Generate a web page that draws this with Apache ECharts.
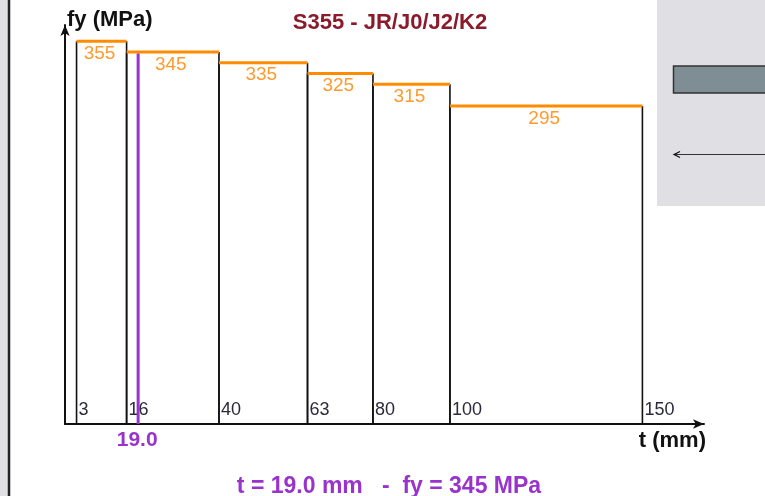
<!DOCTYPE html>
<html>
<head>
<meta charset="utf-8">
<script src="https://cdn.jsdelivr.net/npm/echarts@6/dist/echarts.min.js"></script>
<style>
html,body{margin:0;padding:0;background:#fff;}
#chart{width:765px;height:496px;}
</style>
</head>
<body>
<div id="chart"></div>
<script>
// ---- data ----
const tStart = [3, 16, 40, 63, 80, 100];
const tEnd = [16, 40, 63, 80, 100, 150];
const fyValues = [355, 345, 335, 325, 315, 295];
const tickLabels = [3, 16, 40, 63, 80, 100, 150];
const tSelected = 19.0;
const fySelected = 345;
const titleText = 'S355 - JR/J0/J2/K2';

const FONT = '"Liberation Sans", Arial, sans-serif';
const ORANGE = '#ff8c00';
const PURPLE = '#9933cc';

const barData = tStart.map((s, i) => [s, tEnd[i], fyValues[i]]);
const tickData = tickLabels.map(v => [v, 0]);

const chart = echarts.init(document.getElementById('chart'), null, {renderer: 'canvas'});

chart.setOption({
  animation: false,
  backgroundColor: '#ffffff',
  title: [
    {
      text: titleText,
      left: 385, top: 7, textAlign: 'center',
      textStyle: {fontFamily: FONT, fontSize: 22, fontWeight: 'bold', color: '#8b1a2a'}
    },
    {
      text: 't = ' + tSelected.toFixed(1) + ' mm   -  fy = ' + fySelected + ' MPa',
      left: 384, top: 470, textAlign: 'center',
      textStyle: {fontFamily: FONT, fontSize: 23, fontWeight: 'bold', color: PURPLE}
    }
  ],
  grid: {left: 65, right: 61, top: 25, bottom: 72, containLabel: false},
  xAxis: {
    type: 'value', min: 0, max: 166,
    name: 't (mm)', nameLocation: 'end', nameGap: 2,
    nameTextStyle: {fontFamily: FONT, fontSize: 22, fontWeight: 'bold', color: '#111', align: 'right', verticalAlign: 'top', padding: [6, 0, 0, 0]},
    axisLine: {show: true, symbol: ['none', 'arrow'], symbolSize: [7, 11], lineStyle: {color: '#111', width: 2}},
    axisTick: {show: false}, axisLabel: {show: false}, splitLine: {show: false}
  },
  yAxis: {
    type: 'value', min: 0, max: 370,
    name: 'fy (MPa)', nameLocation: 'end', nameGap: 5,
    nameTextStyle: {fontFamily: FONT, fontSize: 22, fontWeight: 'bold', color: '#111', align: 'left', verticalAlign: 'middle', padding: [0, 0, 0, 2]},
    axisLine: {show: true, symbol: ['none', 'arrow'], symbolSize: [7, 11], lineStyle: {color: '#111', width: 2}},
    axisTick: {show: false}, axisLabel: {show: false}, splitLine: {show: false}
  },
  graphic: [
    {type: 'rect', shape: {x: 0, y: 0, width: 8, height: 496}, style: {fill: '#e0dfe4'}, silent: true},
    {type: 'line', shape: {x1: 9, y1: 0, x2: 9, y2: 496}, style: {stroke: '#222', lineWidth: 2.5}, silent: true},
    {type: 'rect', shape: {x: 657, y: 0, width: 108, height: 206}, style: {fill: '#e0dfe4'}, silent: true, z: 10},
    {type: 'rect', shape: {x: 673.5, y: 66, width: 100, height: 27}, style: {fill: '#7f8e95', stroke: '#333', lineWidth: 1.5}, silent: true, z: 11},
    {type: 'line', shape: {x1: 675, y1: 154.5, x2: 765, y2: 154.5}, style: {stroke: '#333', lineWidth: 1}, silent: true, z: 11},
    {type: 'polyline', shape: {points: [[680, 151.5], [674, 154.5], [680, 157.5]]}, style: {stroke: '#111', lineWidth: 1.2, fill: null}, silent: true, z: 11}
  ],
  series: [
    {
      type: 'custom',
      name: 'fy',
      data: barData,
      encode: {x: [0, 1], y: 2},
      renderItem: function (params, api) {
        const x0 = api.value(0), x1 = api.value(1), v = api.value(2);
        const pBase0 = api.coord([x0, 0]);
        const pBase1 = api.coord([x1, 0]);
        const pTop0 = api.coord([x0, v]);
        const pTop1 = api.coord([x1, v]);
        return {
          type: 'group',
          children: [
            {type: 'line', shape: {x1: pBase0[0], y1: pBase0[1], x2: pTop0[0], y2: pTop0[1]}, style: {stroke: '#111', lineWidth: 1.6}},
            {type: 'line', shape: {x1: pBase1[0], y1: pBase1[1], x2: pTop1[0], y2: pTop1[1]}, style: {stroke: '#111', lineWidth: 1.6}},
            {type: 'line', z2: 5, shape: {x1: pTop0[0], y1: pTop0[1], x2: pTop1[0], y2: pTop1[1]}, style: {stroke: ORANGE, lineWidth: 3}},
            {type: 'text', z2: 6, style: {
              text: String(v), x: (pTop0[0] + pTop1[0]) / 2 - 2, y: pTop0[1] + 12.5,
              align: 'center', verticalAlign: 'middle',
              font: '19px ' + FONT, fill: '#ff9a2e'
            }}
          ]
        };
      }
    },
    {
      type: 'custom',
      name: 'ticks',
      data: tickData,
      encode: {x: 0, y: 1},
      renderItem: function (params, api) {
        const p = api.coord([api.value(0), 0]);
        return {
          type: 'text',
          style: {
            text: String(api.value(0)), x: p[0] + 2, y: p[1] - 14,
            align: 'left', verticalAlign: 'middle',
            font: '18px ' + FONT, fill: '#2a2a3a'
          }
        };
      }
    },
    {
      type: 'custom',
      name: 'selected',
      data: [[tSelected, fySelected]],
      encode: {x: 0, y: 1},
      z: 5,
      renderItem: function (params, api) {
        const pB = api.coord([api.value(0), 0]);
        const pT = api.coord([api.value(0), api.value(1)]);
        return {
          type: 'group',
          children: [
            {type: 'line', shape: {x1: pB[0], y1: pB[1], x2: pT[0], y2: pT[1] + 1.5}, style: {stroke: PURPLE, lineWidth: 3}},
            {type: 'text', style: {
              text: api.value(0).toFixed(1), x: pB[0] - 1, y: pB[1] + 16,
              align: 'center', verticalAlign: 'middle',
              font: 'bold 21px ' + FONT, fill: PURPLE
            }}
          ]
        };
      }
    }
  ]
});
</script>
</body>
</html>
